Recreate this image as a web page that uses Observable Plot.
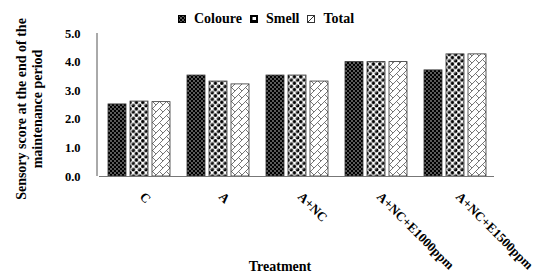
<!DOCTYPE html>
<html>
<head>
<meta charset="utf-8">
<script src="https://cdn.jsdelivr.net/npm/d3@7"></script>
<script src="https://cdn.jsdelivr.net/npm/@observablehq/plot@0.6"></script>
<style>
  html, body { margin: 0; padding: 0; background: #fff; }
  #wrap { position: relative; width: 543px; height: 277px; overflow: hidden; }
  #legend { position: absolute; top: 11px; left: 178px; font-family: "Liberation Serif", serif; font-weight: bold; font-size: 14px; white-space: nowrap; display: flex; align-items: center; }
  #legend .item { display: flex; align-items: center; margin-right: 8px; }
  #legend svg { margin-right: 8px; }
  #xtitle { position: absolute; left: 0; width: 560px; top: 259px; text-align: center; font-family: "Liberation Serif", serif; font-weight: bold; font-size: 14px; }
</style>
</head>
<body>
<div id="wrap"></div>
<script>
const treatments = ["C", "A", "A+NC", "A+NC+E1000ppm", "A+NC+E1500ppm"];
const series = ["Coloure", "Smell", "Total"];
const coloure = [2.52, 3.53, 3.53, 4.00, 3.71];
const smell   = [2.62, 3.32, 3.53, 4.00, 4.27];
const total   = [2.60, 3.22, 3.32, 4.00, 4.27];
const yTicks = [0, 1, 2, 3, 4, 5];
const yTitle = "Sensory score at the end of the\nmaintenance period";
const xTitle = "Treatment";

const seriesValues = {Coloure: coloure, Smell: smell, Total: total};
const data = treatments.flatMap((t, i) => series.map(s => ({t, s, v: seriesValues[s][i]})));

const font = "'Liberation Serif', 'Times New Roman', serif";

const plot = Plot.plot({
  width: 543,
  height: 277,
  marginLeft: 97,
  marginRight: 48,
  marginTop: 33,
  marginBottom: 101,
  style: {fontFamily: font, fontWeight: "bold", fontSize: "14px", background: "#fff", overflow: "visible"},
  fx: {domain: treatments, paddingInner: 0, paddingOuter: 0},
  x: {domain: series, paddingInner: 0.19, paddingOuter: 0.38, axis: null},
  y: {domain: [0, 5], ticks: yTicks, tickFormat: d3.format(".1f")},
  color: {domain: series, range: ["url(#pCol)", "url(#pSm)", "url(#pTot)"]},
  marks: [
    Plot.barY(data, {fx: "t", x: "s", y: "v", fill: "s", stroke: "#333", strokeWidth: 0.8}),
    Plot.ruleY([0], {stroke: "#777", strokeWidth: 1}),
    Plot.axisY({ticks: yTicks, tickFormat: d3.format(".1f"), tickSize: 0, tickPadding: 19, fontSize: 12.5, label: null}),
    Plot.axisFx({anchor: "bottom", tickRotate: 45, tickSize: 0, tickPadding: 18, dx: 3, label: null, fontSize: 13}),
    Plot.text([yTitle], {frameAnchor: "left", textAnchor: "middle", rotate: -90, dx: -71, dy: 4, lineHeight: 1.15, fontSize: 14, fontWeight: "bold", facetAnchor: "left"})
  ]
});

// patterns
const defs = `
<defs>
  <pattern id="pCol" patternUnits="userSpaceOnUse" width="4" height="4">
    <rect width="4" height="4" fill="#000"/>
    <circle cx="1" cy="1" r="0.65" fill="#fff"/>
    <circle cx="3" cy="3" r="0.65" fill="#fff"/>
  </pattern>
  <pattern id="pSm" patternUnits="userSpaceOnUse" width="6.4" height="6.4">
    <rect width="6.4" height="6.4" fill="#fff"/>
    <circle cx="0" cy="0" r="1.8" fill="#000"/>
    <circle cx="6.4" cy="0" r="1.8" fill="#000"/>
    <circle cx="0" cy="6.4" r="1.8" fill="#000"/>
    <circle cx="6.4" cy="6.4" r="1.8" fill="#000"/>
    <circle cx="3.2" cy="3.2" r="1.8" fill="#000"/>
    <circle cx="2.7" cy="2.6" r="0.55" fill="#fff"/>
  </pattern>
  <pattern id="pTot" patternUnits="userSpaceOnUse" width="7" height="7">
    <rect width="7" height="7" fill="#fff"/>
    <path d="M0,7 L7,0 M3.5,3.5 L7,7 M-1,1 L1,-1 M6,8 L8,6" stroke="#666" stroke-width="0.9" fill="none"/>
  </pattern>
</defs>`;

const svg = plot.tagName.toLowerCase() === "svg" ? plot : plot.querySelector("svg");
svg.insertAdjacentHTML("afterbegin", defs);

// y axis line through the library's own scale
const y = plot.scale("y");
const line = document.createElementNS("http://www.w3.org/2000/svg", "line");
line.setAttribute("x1", 97); line.setAttribute("x2", 97);
line.setAttribute("y1", y.apply(0)); line.setAttribute("y2", y.apply(5));
line.setAttribute("stroke", "#555"); line.setAttribute("stroke-width", 1);
svg.appendChild(line);

const wrap = document.getElementById("wrap");
wrap.appendChild(plot);

// legend
const legend = document.createElement("div");
legend.id = "legend";
const sw = {
  Coloure: `<rect x="0.5" y="0.5" width="7" height="7" fill="url(#pCol)" stroke="#000"/>`,
  Smell: `<rect x="0.5" y="0.5" width="7" height="7" fill="#000" stroke="#000"/><rect x="2.5" y="2" width="3.5" height="3" fill="#fff"/>`,
  Total: `<rect x="0.5" y="0.5" width="7" height="7" fill="#fff" stroke="#333"/><path d="M0.5,7.5 L7.5,0.5" stroke="#333"/>`
};
legend.innerHTML = series.map(s => `<span class="item"><svg width="8" height="8">${sw[s]}</svg>${s}</span>`).join("");
wrap.appendChild(legend);

const xt = document.createElement("div");
xt.id = "xtitle";
xt.textContent = xTitle;
wrap.appendChild(xt);
</script>
</body>
</html>
